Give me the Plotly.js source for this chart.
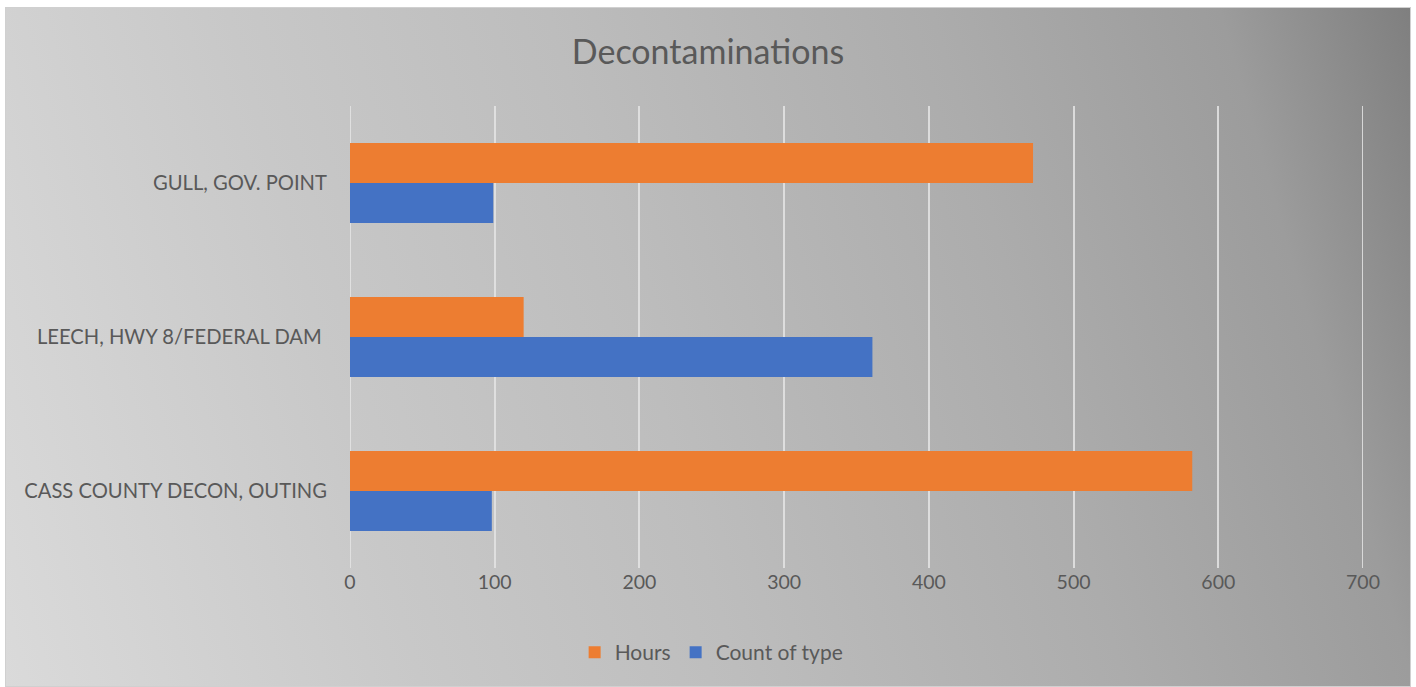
<!DOCTYPE html>
<html>
<head>
<meta charset="utf-8">
<script src="https://cdn.plot.ly/plotly-3.0.1.min.js"></script>
<style>
  html, body { margin: 0; padding: 0; background: #ffffff; width: 1416px; height: 687px; overflow: hidden; }
  #bg { position: absolute; left: 5px; top: 7px; width: 1406px; height: 680px;
        background: linear-gradient(74deg, #dadada 0%, #c8c8c8 26%, #bdbdbd 46%, #acacac 70%, #9c9c9c 88%, #7f7f7f 100%);
        box-shadow: inset 0 0 0 1px #d0d0d0; }
  #chart { position: absolute; left: 5px; top: 7px; width: 1406px; height: 680px; }
</style>
</head>
<body>
<div id="bg"></div>
<div id="chart"></div>
<script>
const categories = ["CASS COUNTY DECON, OUTING", "LEECH, HWY 8/FEDERAL DAM\u00a0", "GULL, GOV. POINT"];
const hours = [582, 120, 472];
const countOfType = [98, 361, 99];
const xTicks = [0, 100, 200, 300, 400, 500, 600, 700];

const gridColor = "rgba(228,228,228,0.85)";

const traces = [
  { type: "bar", orientation: "h", name: "Count of type", y: categories, x: countOfType,
    marker: { color: "#4472c4" } },
  { type: "bar", orientation: "h", name: "Hours", y: categories, x: hours,
    marker: { color: "#ed7d31" } }
];

// edge gridlines (Plotly skips grid lines lying on the plot-area border)
const edgeGrid = [xTicks[0], xTicks[xTicks.length - 1]].map(v => ({
  type: "line", xref: "x", yref: "paper", x0: v, x1: v, y0: 0, y1: 1, layer: "below",
  line: { color: gridColor, width: 2 }
}));

const layout = {
  width: 1406, height: 680,
  paper_bgcolor: "rgba(0,0,0,0)", plot_bgcolor: "rgba(0,0,0,0)",
  font: { family: "Lato, 'Open Sans', sans-serif", color: "#595959", size: 18 },
  title: { text: "Decontaminations", font: { size: 34, color: "#595959" }, x: 0.5, xanchor: "center", y: 0.934, yanchor: "middle" },
  margin: { l: 345, r: 48, t: 99, b: 119 },
  barmode: "group", bargap: 0.48, bargroupgap: 0,
  xaxis: { range: [xTicks[0], xTicks[xTicks.length - 1]], tickvals: xTicks, ticktext: xTicks.map(String), showgrid: true,
    gridcolor: gridColor, gridwidth: 2, zeroline: false, showline: false,
    ticks: "", ticklen: 0, tickfont: { size: 19.5, color: "#595959" }, fixedrange: true },
  yaxis: { type: "category", showgrid: false, zeroline: false, showline: false, ticks: "outside",
    ticklen: 18, tickcolor: "rgba(0,0,0,0)", tickfont: { size: 20.2, color: "#595959" }, automargin: false },
  shapes: edgeGrid,
  showlegend: true,
  legend: { orientation: "h", traceorder: "reversed", x: 0.357, xanchor: "center", y: -0.183, yanchor: "middle",
    itemwidth: 30, font: { size: 21, color: "#595959" }, bgcolor: "rgba(0,0,0,0)" }
};

Plotly.newPlot("chart", traces, layout, { displayModeBar: false, staticPlot: true });
</script>
</body>
</html>
